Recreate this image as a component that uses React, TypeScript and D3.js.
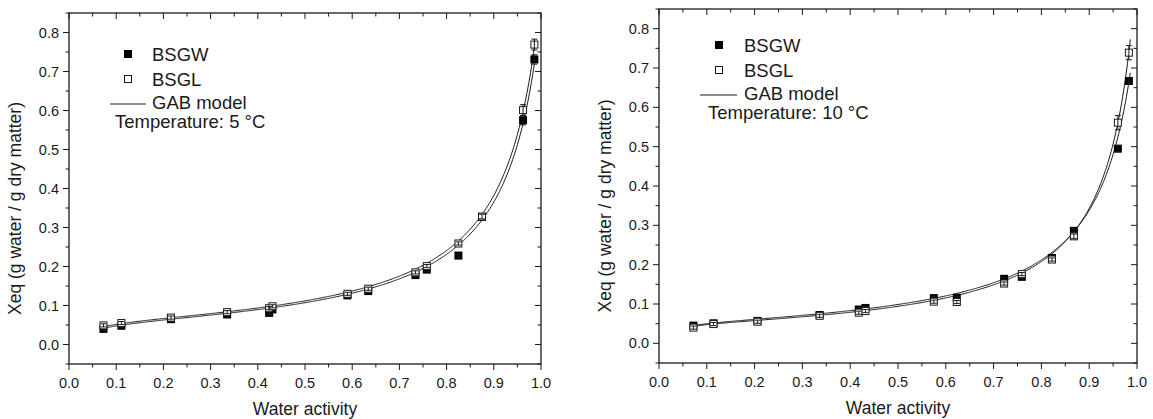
import React from "react";
import * as d3 from "d3";

// ---------- data ----------
const xTicks = [0, 0.1, 0.2, 0.3, 0.4, 0.5, 0.6, 0.7, 0.8, 0.9, 1.0];
const yTicks = [0, 0.1, 0.2, 0.3, 0.4, 0.5, 0.6, 0.7, 0.8];

// 5 °C
const aw5 = [0.073, 0.111, 0.216, 0.335, 0.424, 0.431, 0.59, 0.634, 0.734, 0.758, 0.825, 0.875, 0.962, 0.986];
const bsgw5 = [0.04, 0.048, 0.065, 0.077, 0.081, 0.09, 0.126, 0.137, 0.178, 0.192, 0.228, 0.327, 0.575, 0.731];
const bsgl5 = [0.049, 0.055, 0.069, 0.083, 0.093, 0.098, 0.13, 0.143, 0.185, 0.201, 0.259, 0.328, 0.601, 0.769];
const errW5 = [0.004, 0.004, 0.004, 0.004, 0.004, 0.004, 0.004, 0.004, 0.004, 0.004, 0.004, 0.006, 0.012, 0.012];
const errL5 = [0.004, 0.004, 0.004, 0.004, 0.004, 0.004, 0.004, 0.004, 0.004, 0.004, 0.004, 0.006, 0.014, 0.014];
// GAB parameters [Xm, C, K]
const gabW5 = [0.06, 25, 0.93];
const gabL5 = [0.062, 30, 0.932];

// 10 °C
const aw10 = [0.072, 0.114, 0.206, 0.336, 0.418, 0.432, 0.575, 0.623, 0.722, 0.759, 0.822, 0.868, 0.96, 0.983];
const bsgw10 = [0.045, 0.051, 0.057, 0.072, 0.086, 0.09, 0.115, 0.116, 0.164, 0.169, 0.217, 0.286, 0.495, 0.667];
const bsgl10 = [0.04, 0.049, 0.055, 0.07, 0.078, 0.082, 0.106, 0.105, 0.152, 0.176, 0.213, 0.272, 0.561, 0.739];
const errW10 = [0.004, 0.004, 0.004, 0.004, 0.004, 0.004, 0.004, 0.004, 0.004, 0.004, 0.004, 0.006, 0.008, 0.008];
const errL10 = [0.004, 0.004, 0.004, 0.004, 0.004, 0.004, 0.004, 0.004, 0.004, 0.004, 0.004, 0.006, 0.018, 0.018];
const gabW10 = [0.0538, 50, 0.935];
const gabL10 = [0.0505, 55, 0.948];

const gab = (p: number[], a: number) => {
  const [m, C, K] = p;
  const u = K * a;
  return (m * C * u) / ((1 - u) * (1 - u + C * u));
};

const FONT = "'Liberation Sans', Arial, sans-serif";
const INK = "#1a1a1a";

type PanelProps = {
  left: number; right: number; top: number; bottom: number;
  aw: number[]; w: number[]; l: number[]; ew: number[]; el: number[];
  pw: number[]; pl: number[]; temp: string;
  leg: { mx: number; tx: number; y0: number; dy: number; lx0: number; lx1: number; tempX: number };
};

function Panel(p: PanelProps) {
  const x = d3.scaleLinear().domain([0, 1]).range([p.left, p.right]);
  const y = d3.scaleLinear().domain([-0.05, 0.85]).range([p.bottom, p.top]);
  const xMinor = d3.range(0, 1.0001, 0.05);
  const yMinor = d3.range(-0.05, 0.8501, 0.05);
  const sample = d3.range(0.07, 0.9861, 0.002);
  const mk = (par: number[]) =>
    d3.line<number>().x((a) => x(a)).y((a) => y(gab(par, a))).curve(d3.curveLinear)(sample) || "";
  const sz = 8;
  const cap = 3;
  const errs = (vals: number[], err: number[], key: string) =>
    p.aw.map((a, i) => (
      <g key={key + i} stroke={INK} strokeWidth={1}>
        <line x1={x(a)} x2={x(a)} y1={y(vals[i] - err[i])} y2={y(vals[i] + err[i])} />
        <line x1={x(a) - cap} x2={x(a) + cap} y1={y(vals[i] - err[i])} y2={y(vals[i] - err[i])} />
        <line x1={x(a) - cap} x2={x(a) + cap} y1={y(vals[i] + err[i])} y2={y(vals[i] + err[i])} />
      </g>
    ));
  const { leg } = p;
  return (
    <g fontFamily={FONT} fill={INK}>
      {/* curves */}
      <path d={mk(p.pw)} fill="none" stroke={INK} strokeWidth={1} />
      <path d={mk(p.pl)} fill="none" stroke={INK} strokeWidth={1} />
      {/* filled */}
      {p.aw.map((a, i) => (
        <rect key={"w" + i} x={x(a) - sz / 2} y={y(p.w[i]) - sz / 2} width={sz} height={sz} fill="#000" />
      ))}
      {errs(p.w, p.ew, "ew")}
      {/* open */}
      {p.aw.map((a, i) => (
        <rect key={"l" + i} x={x(a) - sz / 2 + 0.5} y={y(p.l[i]) - sz / 2 + 0.5} width={sz - 1} height={sz - 1} fill="#fff" stroke={INK} strokeWidth={1} />
      ))}
      {errs(p.l, p.el, "el")}
      {/* frame */}
      <rect x={p.left} y={p.top} width={p.right - p.left} height={p.bottom - p.top} fill="none" stroke={INK} strokeWidth={1.3} />
      {/* x ticks */}
      {xMinor.map((v, i) => {
        const major = i % 2 === 0;
        const len = major ? 6 : 3.5;
        return (
          <g key={"xt" + i} stroke={INK} strokeWidth={1}>
            <line x1={x(v)} x2={x(v)} y1={p.bottom} y2={p.bottom + len} />
            <line x1={x(v)} x2={x(v)} y1={p.top} y2={p.top + len} />
          </g>
        );
      })}
      {yMinor.map((v, i) => {
        const major = i % 2 === 1;
        const len = major ? 6 : 3.5;
        return (
          <g key={"yt" + i} stroke={INK} strokeWidth={1}>
            <line x1={p.left} x2={p.left - len} y1={y(v)} y2={y(v)} />
            <line x1={p.right} x2={p.right - len} y1={y(v)} y2={y(v)} />
          </g>
        );
      })}
      {xTicks.map((v) => (
        <text key={"xl" + v} x={x(v)} y={p.bottom + 24} textAnchor="middle" fontSize={14.5}>
          {d3.format(".1f")(v)}
        </text>
      ))}
      {yTicks.map((v) => (
        <text key={"yl" + v} x={p.left - 10} y={y(v) + 5} textAnchor="end" fontSize={14.5}>
          {d3.format(".1f")(v)}
        </text>
      ))}
      <text x={(p.left + p.right) / 2} y={p.bottom + 51} textAnchor="middle" fontSize={17.5}>
        Water activity
      </text>
      <text
        transform={`translate(${p.left - 48},${(p.top + p.bottom) / 2 + 20}) rotate(-90)`}
        textAnchor="middle"
        fontSize={17.5}
      >
        Xeq (g water / g dry matter)
      </text>
      {/* legend */}
      <rect x={leg.mx - 4} y={leg.y0 - 4} width={8} height={8} fill="#000" />
      <text x={leg.tx} y={leg.y0 + 6.5} fontSize={18.5}>BSGW</text>
      <rect x={leg.mx - 3.5} y={leg.y0 + leg.dy - 3.5} width={7} height={7} fill="#fff" stroke={INK} strokeWidth={1} />
      <text x={leg.tx} y={leg.y0 + leg.dy + 6.5} fontSize={18.5}>BSGL</text>
      <line x1={leg.lx0} x2={leg.lx1} y1={leg.y0 + 2 * leg.dy} y2={leg.y0 + 2 * leg.dy} stroke={INK} strokeWidth={1} />
      <text x={leg.tx} y={leg.y0 + 2 * leg.dy + 5} fontSize={18.5}>GAB model</text>
      <text x={leg.tempX} y={leg.y0 + 3 * leg.dy - 1} fontSize={18.5}>{p.temp}</text>
    </g>
  );
}

export default function App() {
  return (
    <svg width={1153} height={419} style={{ position: "absolute", left: 0, top: 0, background: "#fff" }}>
      <rect width={1153} height={419} fill="#fff" />
      <Panel
        left={69} right={541} top={13} bottom={364}
        aw={aw5} w={bsgw5} l={bsgl5} ew={errW5} el={errL5} pw={gabW5} pl={gabL5}
        temp="Temperature: 5 °C"
        leg={{ mx: 128, tx: 152, y0: 54, dy: 25, lx0: 110, lx1: 146, tempX: 115 }}
      />
      <Panel
        left={659} right={1137} top={9} bottom={363}
        aw={aw10} w={bsgw10} l={bsgl10} ew={errW10} el={errL10} pw={gabW10} pl={gabL10}
        temp="Temperature: 10 °C"
        leg={{ mx: 719, tx: 744, y0: 45, dy: 25, lx0: 700, lx1: 737, tempX: 708 }}
      />
    </svg>
  );
}
